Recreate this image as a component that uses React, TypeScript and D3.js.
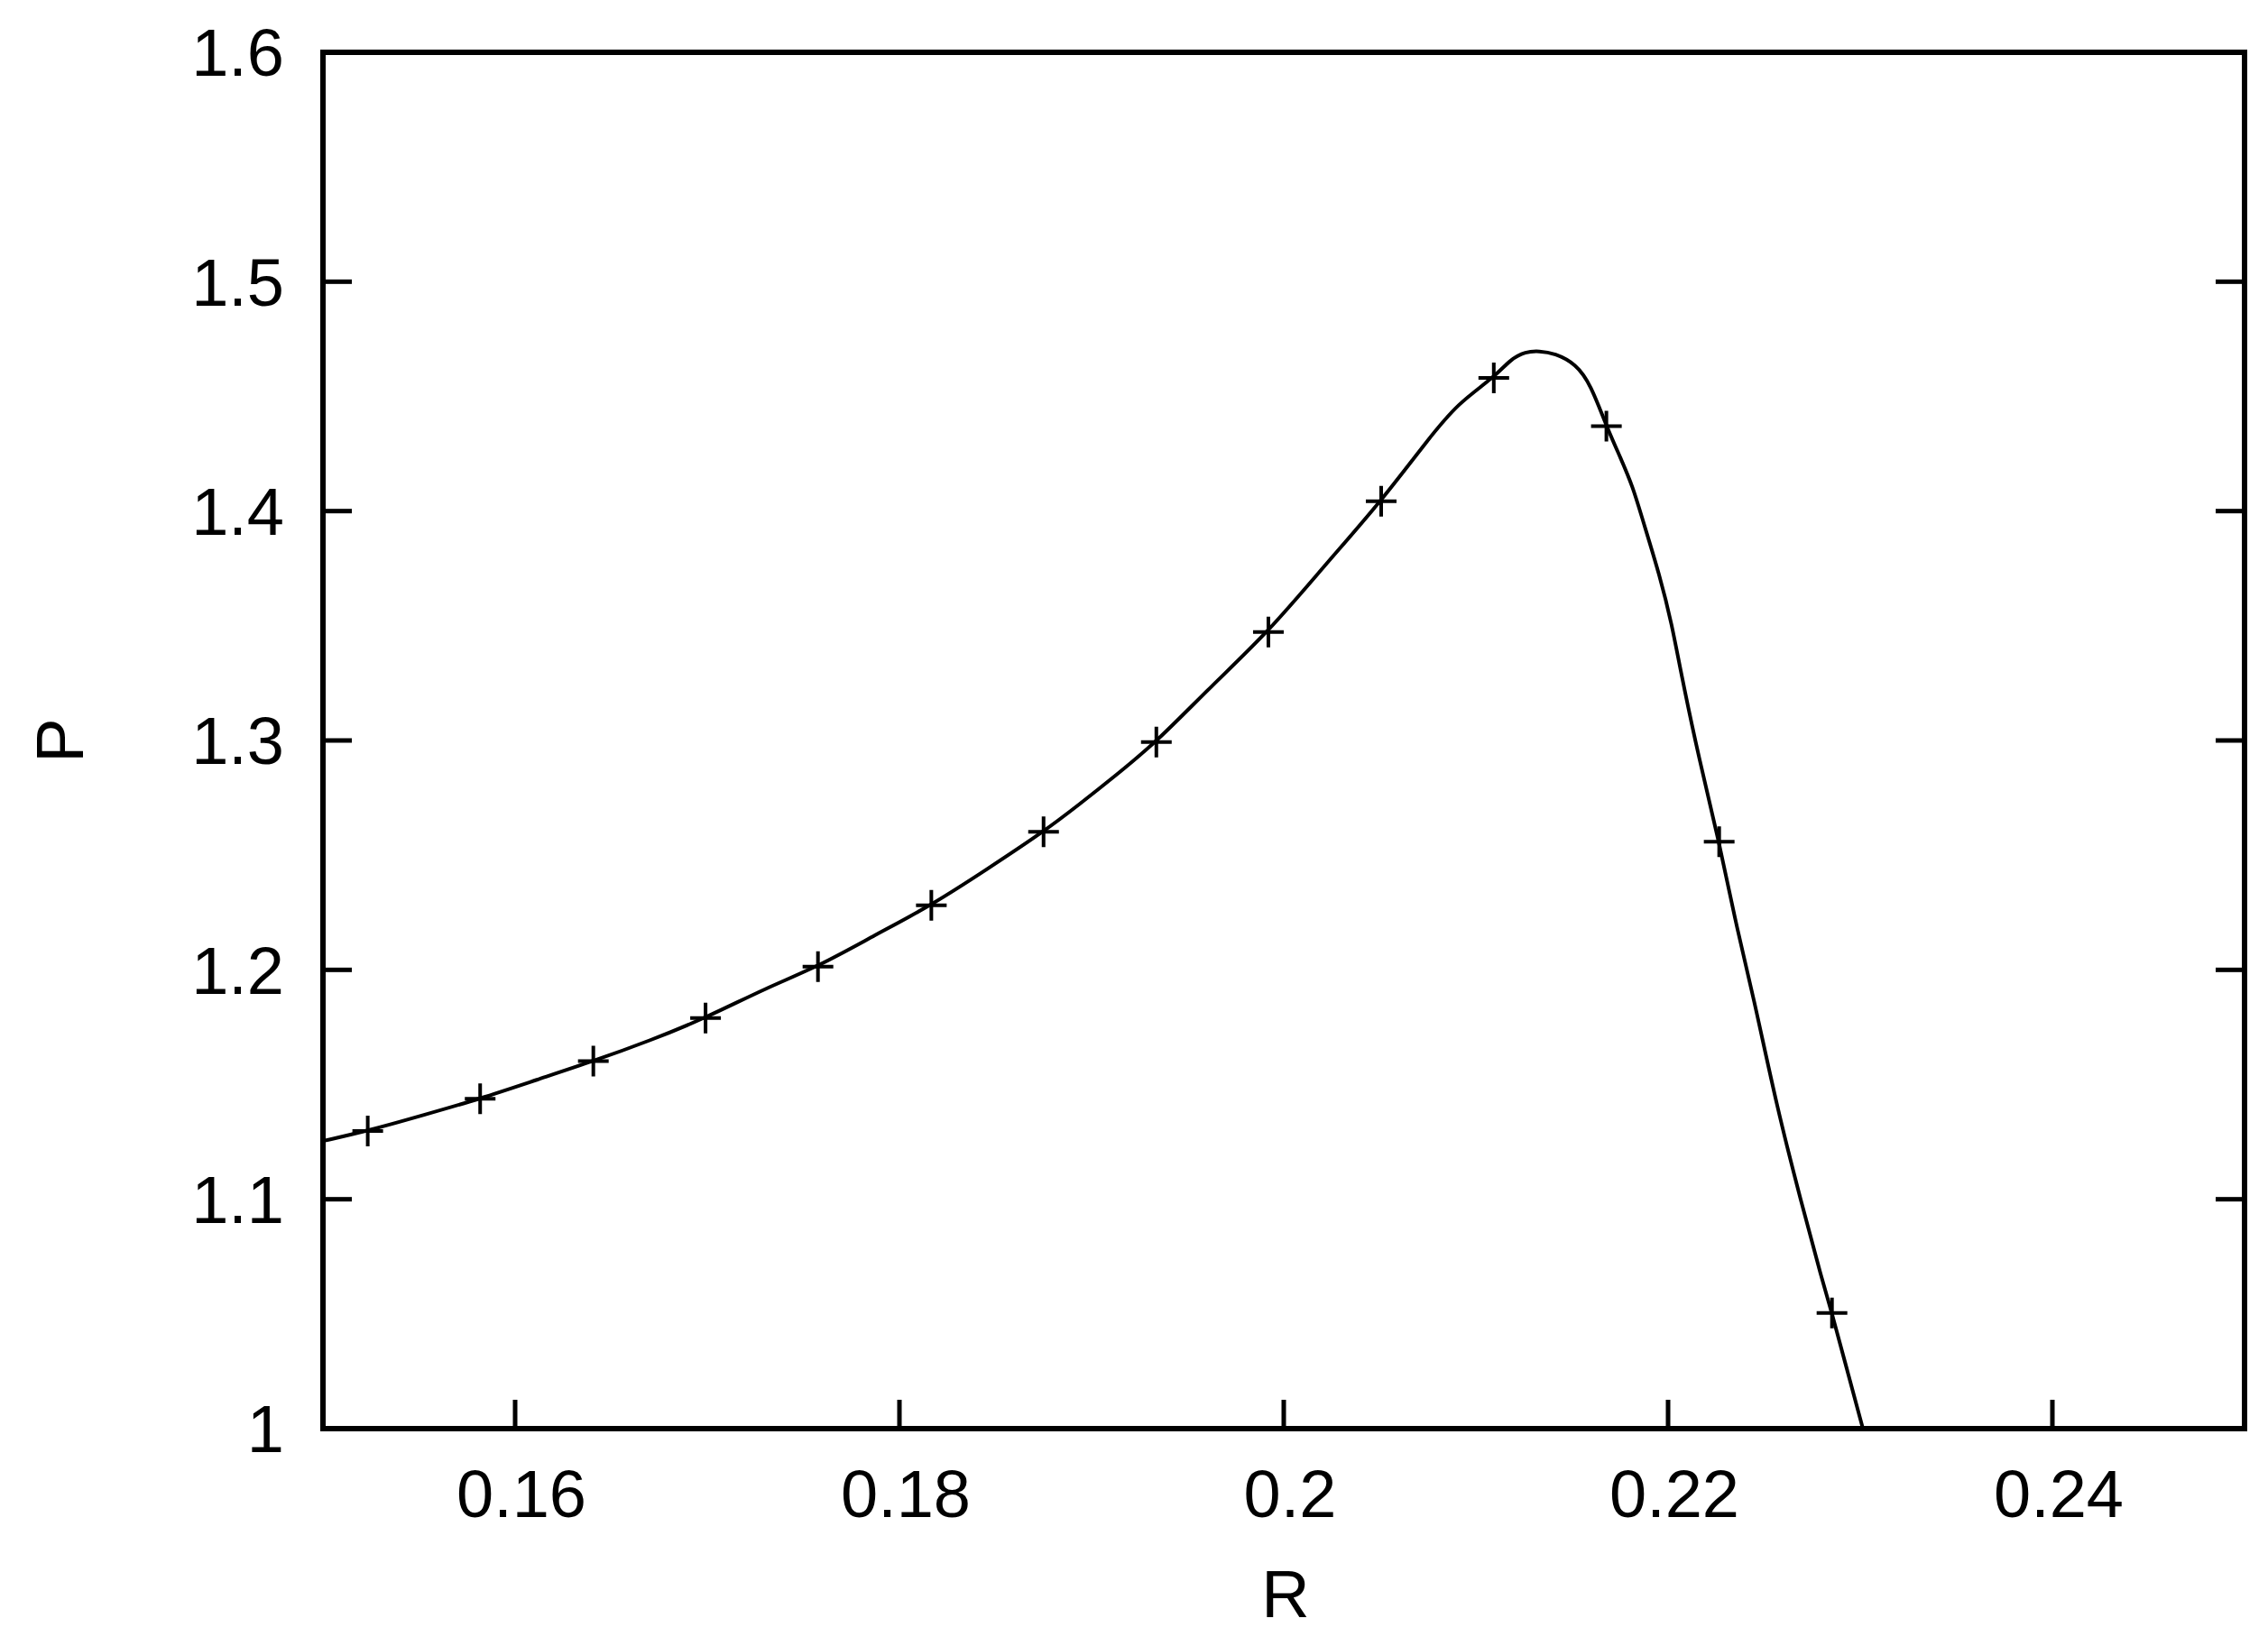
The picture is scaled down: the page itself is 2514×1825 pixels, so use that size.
import React from 'react';
import * as d3 from 'd3';

// Continuous curve (R, P)
const curveR = [
  0.15, 0.15233, 0.15526, 0.15818, 0.16113, 0.16407, 0.167, 0.16991, 0.1731, 0.17576,
  0.17873, 0.18166, 0.1846, 0.1875, 0.18937, 0.19125, 0.19337, 0.19626, 0.1992, 0.20221,
  0.20507, 0.20753, 0.20909, 0.21093, 0.2118, 0.21258, 0.21329, 0.2141, 0.2152, 0.21598,
  0.21679, 0.21755, 0.21817, 0.21864, 0.21958, 0.2202, 0.22067, 0.22161, 0.22266, 0.22349,
  0.22443, 0.22568, 0.22693, 0.22803, 0.22853, 0.22928, 0.23014,
];
const curveP = [
  1.1254, 1.1298, 1.1368, 1.1438, 1.1521, 1.1602, 1.1691, 1.179, 1.1923, 1.2014,
  1.2152, 1.2281, 1.2441, 1.2602, 1.2722, 1.2847, 1.2993, 1.324, 1.3473, 1.3771,
  1.4043, 1.4315, 1.4472, 1.4581, 1.4662, 1.4695, 1.4698, 1.4688, 1.4642, 1.4551,
  1.437, 1.4228, 1.4105, 1.3972, 1.3716, 1.3506, 1.3295, 1.2919, 1.2559, 1.2213,
  1.189, 1.1394, 1.0988, 1.0643, 1.0504, 1.0267, 1.0,
];

// Point markers (+)
const markR = [
  0.15233, 0.15818, 0.16407, 0.16991, 0.17576, 0.18166, 0.1875,
  0.19337, 0.1992, 0.20507, 0.21093, 0.21679, 0.22266, 0.22853,
];
const markP = [
  1.1298, 1.1438, 1.1602, 1.179, 1.2014, 1.2281, 1.2602,
  1.2993, 1.3473, 1.4043, 1.4581, 1.437, 1.2559, 1.0504,
];

const xTicks = [0.16, 0.18, 0.2, 0.22, 0.24];
const xTickLabels = ['0.16', '0.18', '0.2', '0.22', '0.24'];
const yTicks = [1, 1.1, 1.2, 1.3, 1.4, 1.5, 1.6];
const yTickLabels = ['1', '1.1', '1.2', '1.3', '1.4', '1.5', '1.6'];

const W = 2514;
const H = 1825;
const left = 358;
const right = 2488;
const top = 58;
const bottom = 1584;
const FONT = "'Liberation Sans', Arial, Helvetica, sans-serif";
const FS = 74;
const TICK = 32;

export default function App() {
  const x = d3.scaleLinear().domain([0.15, 0.25]).range([left, right]);
  const y = d3.scaleLinear().domain([1.0, 1.6]).range([bottom, top]);

  const pts: [number, number][] = curveR.map((r, i) => [r, curveP[i]]);
  const line = d3
    .line<[number, number]>()
    .x((d) => x(d[0]))
    .y((d) => y(d[1]))
    .curve(d3.curveBasis);

  const arm = 17;

  return (
    <svg
      width={W}
      height={H}
      viewBox={`0 0 ${W} ${H}`}
      style={{ position: 'absolute', left: 0, top: 0, background: '#fff' }}
    >
      <rect x={0} y={0} width={W} height={H} fill="#fff" />
      <defs>
        <clipPath id="plotclip">
          <rect x={left} y={top} width={right - left} height={bottom - top} />
        </clipPath>
      </defs>

      {/* ticks */}
      {xTicks.map((t, i) => (
        <g key={'xt' + i}>
          <line x1={x(t)} x2={x(t)} y1={bottom} y2={bottom - TICK} stroke="#000" strokeWidth={5} />
          <text
            x={x(t) + 7}
            y={1682}
            fontFamily={FONT}
            fontSize={FS}
            textAnchor="middle"
            fill="#000"
          >
            {xTickLabels[i]}
          </text>
        </g>
      ))}
      {yTicks.map((t, i) => (
        <g key={'yt' + i}>
          <line x1={left} x2={left + TICK} y1={y(t)} y2={y(t)} stroke="#000" strokeWidth={5} />
          <line x1={right} x2={right - TICK} y1={y(t)} y2={y(t)} stroke="#000" strokeWidth={5} />
          <text
            x={315}
            y={y(t) + FS * 0.358}
            fontFamily={FONT}
            fontSize={FS}
            textAnchor="end"
            fill="#000"
          >
            {yTickLabels[i]}
          </text>
        </g>
      ))}

      {/* curve */}
      <g clipPath="url(#plotclip)">
        <path d={line(pts) || ''} fill="none" stroke="#000" strokeWidth={4} strokeLinejoin="round" />
        {markR.map((r, i) => (
          <path
            key={'m' + i}
            d={`M${x(r) - arm},${y(markP[i])}H${x(r) + arm}M${x(r)},${y(markP[i]) - arm}V${y(markP[i]) + arm}`}
            stroke="#000"
            strokeWidth={4}
            fill="none"
          />
        ))}
      </g>

      {/* frame */}
      <rect
        x={left}
        y={top}
        width={right - left}
        height={bottom - top}
        fill="none"
        stroke="#000"
        strokeWidth={6}
      />

      {/* axis labels */}
      <text x={(left + right) / 2 + 2} y={1793} fontFamily={FONT} fontSize={FS} textAnchor="middle" fill="#000">
        R
      </text>
      <text
        transform={`translate(92, ${(top + bottom) / 2}) rotate(-90)`}
        fontFamily={FONT}
        fontSize={FS}
        textAnchor="middle"
        fill="#000"
      >
        P
      </text>
    </svg>
  );
}
